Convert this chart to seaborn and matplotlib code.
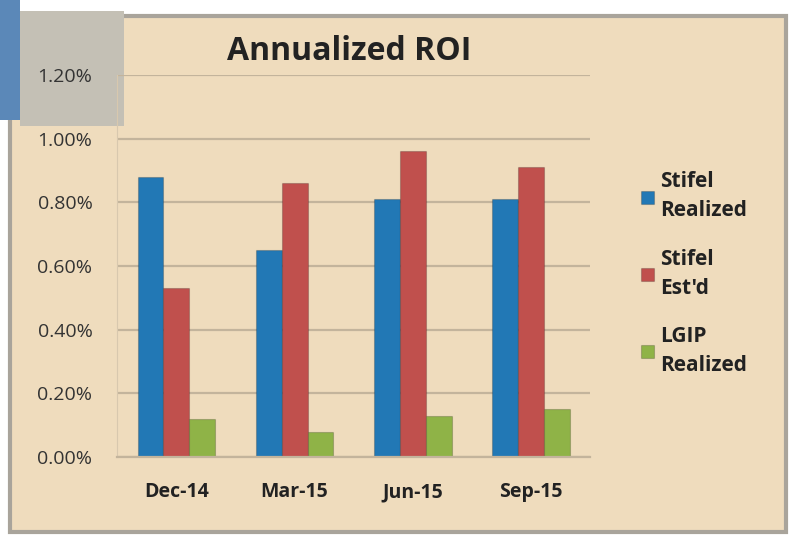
import matplotlib
matplotlib.use("Agg")
import matplotlib.pyplot as plt
from matplotlib.patches import Rectangle
from matplotlib.ticker import FuncFormatter
import pandas as pd
import seaborn as sns

# Data (percent)
quarters = ["Dec-14", "Mar-15", "Jun-15", "Sep-15"]
stifel_realized = [0.88, 0.65, 0.81, 0.81]
stifel_estd = [0.53, 0.86, 0.96, 0.91]
lgip_realized = [0.12, 0.08, 0.13, 0.15]
series_names = ["Stifel\nRealized", "Stifel\nEst'd", "LGIP\nRealized"]
colours = ["#2278b5", "#c0504d", "#8fb347"]

df = pd.DataFrame(
    {
        "Quarter": quarters * 3,
        "Series": [s for s in series_names for _ in quarters],
        "ROI": stifel_realized + stifel_estd + lgip_realized,
    }
)

sns.set_style("white")
plt.rcParams["font.family"] = ["Open Sans", "DejaVu Sans"]

bg = "#efdcbd"
fig = plt.figure(figsize=(7.99, 5.46), dpi=100)
fig.patch.set_facecolor("white")

# scanned chart area box
fig.patches.append(
    Rectangle((0.012, 0.025), 0.972, 0.945, transform=fig.transFigure,
              facecolor=bg, edgecolor="#a9a49b", linewidth=3, zorder=-5)
)
# grey/blue scan artefact at the top left
fig.patches.append(
    Rectangle((0.0, 0.78), 0.025, 0.22, transform=fig.transFigure,
              facecolor="#5b88b8", edgecolor="none", zorder=-5)
)
fig.patches.append(
    Rectangle((0.025, 0.77), 0.13, 0.21, transform=fig.transFigure,
              facecolor="#c4c0b5", edgecolor="none", zorder=-4)
)

ax = fig.add_axes([0.147, 0.163, 0.591, 0.7])
ax.set_facecolor("none")

sns.barplot(
    data=df, x="Quarter", y="ROI", hue="Series", order=quarters,
    hue_order=series_names, palette=colours, width=0.66,
    saturation=1, ax=ax, legend=True,
)

for bar in ax.patches:
    bar.set_edgecolor("#00000030")
    bar.set_linewidth(0.8)

ax.set_ylim(0, 1.2)
ax.set_xlim(-0.5, 3.5)
ax.set_yticks([0, 0.2, 0.4, 0.6, 0.8, 1.0, 1.2])
ax.yaxis.set_major_formatter(FuncFormatter(lambda v, p: f"{v:.2f}%"))
ax.grid(axis="y", color="#c3b49c", linewidth=1.6)
ax.set_axisbelow(True)
for side in ["top", "right"]:
    ax.spines[side].set_visible(False)
ax.spines["left"].set_color("#d8c8ae")
ax.spines["bottom"].set_color("#c3b49c")
ax.spines["bottom"].set_linewidth(1.6)
ax.tick_params(axis="y", labelsize=14, colors="#333333", length=0, pad=18)
ax.tick_params(axis="x", labelsize=14, length=0, pad=18)
for lbl in ax.get_xticklabels():
    lbl.set_fontweight("bold")
    lbl.set_color("#222222")
ax.set_xlabel("")
ax.set_ylabel("")

fig.text(0.437, 0.905, "Annualized ROI", ha="center", va="center",
         fontsize=23, fontweight="bold", color="#222222")

handles, labels = ax.get_legend_handles_labels()
ax.legend(
    handles, labels, loc="center left", bbox_to_anchor=(1.07, 0.48),
    frameon=False, prop={"weight": "bold", "size": 15},
    handlelength=0.6, handleheight=0.6, handletextpad=0.3, labelspacing=1.3,
    labelcolor="#222222",
)
for txt in ax.get_legend().get_texts():
    txt.set_linespacing(1.5)

fig.savefig("out.png", dpi=100, facecolor=fig.get_facecolor())
